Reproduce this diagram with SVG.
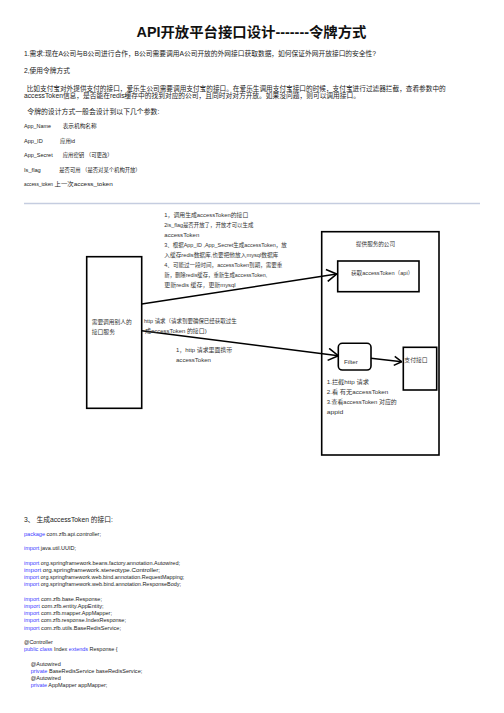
<svg xmlns="http://www.w3.org/2000/svg" width="504" height="713" viewBox="0 0 504 713">
<style>
text{font-family:"Liberation Sans","Noto Sans CJK SC",sans-serif;fill:#222}
.t{font-size:14px;font-weight:bold;fill:#111}
.b{font-size:6.5px}
.p{font-size:5.4px}
.d{font-size:5.6px;fill:#333}
.c{font-size:5.3px;fill:#222}
.k{fill:#3a3aff}
.box{fill:none;stroke:#000;stroke-width:1.6}
.ln{fill:none;stroke:#000;stroke-width:1.5}
</style>
<defs>
<marker id="ah" viewBox="0 0 12 14" refX="11" refY="7" markerWidth="12" markerHeight="14" markerUnits="userSpaceOnUse" orient="auto">
<path d="M1,1 L11,7 L1,13" fill="none" stroke="#000" stroke-width="1.6"/>
</marker>
<marker id="ah2" viewBox="0 0 12 14" refX="11" refY="7" markerWidth="9" markerHeight="11" markerUnits="userSpaceOnUse" orient="auto">
<path d="M1,1 L11,7 L1,13" fill="none" stroke="#000" stroke-width="2"/>
</marker>
</defs>
<rect width="504" height="713" fill="#fff"/>
<text class="t" x="251.5" y="37" text-anchor="middle" textLength="230" lengthAdjust="spacingAndGlyphs">API开放平台接口设计-------令牌方式</text>
<text class="b" x="24" y="56" textLength="352" lengthAdjust="spacingAndGlyphs">1.需求:现在A公司与B公司进行合作，B公司需要调用A公司开放的外网接口获取数据，如何保证外网开放接口的安全性?</text>
<text class="b" x="24" y="73" textLength="46" lengthAdjust="spacingAndGlyphs">2,使用令牌方式</text>
<text class="b" x="26.7" y="91" textLength="419" lengthAdjust="spacingAndGlyphs">比如支付宝对外提供支付的接口，爱乐生公司需要调用支付宝的接口。在爱乐生调用支付宝接口的时候，支付宝进行过滤器拦截，查看参数中的</text>
<text class="b" x="24" y="98" textLength="336" lengthAdjust="spacingAndGlyphs">accessToken信息，是否能在redis缓存中的找到对应的公司，且同时对对方开放。如果没问题，则可以调用接口。</text>
<text class="b" x="27.3" y="114" textLength="132" lengthAdjust="spacingAndGlyphs">令牌的设计方式一般会设计到以下几个参数:</text>
<g id="params">
<text class="p" x="24" y="128" textLength="27" lengthAdjust="spacingAndGlyphs">App_Name</text><text class="p" x="62.7" y="128" textLength="34" lengthAdjust="spacingAndGlyphs">表示机构名称</text>
<text class="p" x="24" y="143" textLength="18.7" lengthAdjust="spacingAndGlyphs">App_ID</text><text class="p" x="60" y="143" textLength="15" lengthAdjust="spacingAndGlyphs">应用id</text>
<text class="p" x="24" y="157" textLength="28.7" lengthAdjust="spacingAndGlyphs">App_Secret</text><text class="p" x="62.7" y="157" textLength="50" lengthAdjust="spacingAndGlyphs">应用密钥  （可更改）</text>
<text class="p" x="24" y="172" textLength="16.7" lengthAdjust="spacingAndGlyphs">Is_flag</text><text class="p" x="59.3" y="172" textLength="81.4" lengthAdjust="spacingAndGlyphs">是否可用  （是否对某个机构开放）</text>
<text class="p" x="24" y="186" textLength="29" lengthAdjust="spacingAndGlyphs">access_token</text><text class="p" x="54.5" y="186" textLength="58.2" lengthAdjust="spacingAndGlyphs">上一次access_token</text>
</g>
<line x1="24" y1="203.5" x2="480" y2="203.5" stroke="#c5cde0" stroke-width="1.4"/>

<g id="connectors">
<line class="ln" x1="141.7" y1="304" x2="336.7" y2="274" marker-end="url(#ah)"/>
<line class="ln" x1="141.7" y1="330.7" x2="338.3" y2="355.7" marker-end="url(#ah)"/>
<line class="ln" x1="371" y1="358.3" x2="401.7" y2="361.7" marker-end="url(#ah2)"/>
</g>

<g id="caller">
<rect class="box" x="86.7" y="256.7" width="55" height="151.6"/>
<text class="d" x="91.7" y="323.5" textLength="40" lengthAdjust="spacingAndGlyphs">需要调用别人的</text>
<text class="d" x="91.7" y="333.5" textLength="23.3" lengthAdjust="spacingAndGlyphs">接口服务</text>
</g>
<g id="provider">
<rect class="box" x="321.7" y="231.7" width="117.3" height="223.3"/>
<text class="d" x="356" y="246" textLength="39" lengthAdjust="spacingAndGlyphs">提供服务的公司</text>
</g>
<g id="token-api">
<rect class="box" x="337.7" y="261" width="81.3" height="30.7"/>
<text class="d" x="351" y="275" textLength="62.3" lengthAdjust="spacingAndGlyphs">获取accessToken（api）</text>
</g>
<g id="filter">
<rect class="box" x="338.3" y="343.3" width="32.7" height="26.7" rx="4"/>
<text class="d" x="344" y="363.5" textLength="13.7" lengthAdjust="spacingAndGlyphs">Filter</text>
</g>
<g id="pay">
<rect class="box" x="403.3" y="347.3" width="33.4" height="42.7"/>
<text class="d" x="404.3" y="362" textLength="23.4" lengthAdjust="spacingAndGlyphs">支付接口</text>
</g>

<g id="notes">
<text class="d" x="164.3" y="217" textLength="84" lengthAdjust="spacingAndGlyphs">1，调用生成accessToken的接口</text>
<text class="d" x="164.3" y="227" textLength="89" lengthAdjust="spacingAndGlyphs">2is_flag是否开放了，开放才可以生成</text>
<text class="d" x="164.3" y="237" textLength="35" lengthAdjust="spacingAndGlyphs">accessToken</text>
<text class="d" x="164.3" y="247" textLength="122.4" lengthAdjust="spacingAndGlyphs">3、根据App_ID ,App_Secret生成accessToken，放</text>
<text class="d" x="164.3" y="257" textLength="114" lengthAdjust="spacingAndGlyphs">入缓存redis数据库,也要把他放入mysql数据库</text>
<text class="d" x="164.3" y="267" textLength="118" lengthAdjust="spacingAndGlyphs">4、可能过一段时间，accessToken到期，需要重</text>
<text class="d" x="164.3" y="277" textLength="103" lengthAdjust="spacingAndGlyphs">新，删除redis缓存，重新生成accessToken,</text>
<text class="d" x="164.3" y="287" textLength="71.4" lengthAdjust="spacingAndGlyphs">更新redis 缓存，更新mysql</text>
<text class="d" x="144" y="322.5" textLength="92.7" lengthAdjust="spacingAndGlyphs">http 请求（请求到要确保已经获取过生</text>
<text class="d" x="145" y="332.5" textLength="61.7" lengthAdjust="spacingAndGlyphs">成accessToken 的接口)</text>
<text class="d" x="176" y="352" textLength="56.3" lengthAdjust="spacingAndGlyphs">1，http 请求里面携带</text>
<text class="d" x="176" y="362" textLength="35" lengthAdjust="spacingAndGlyphs">accessToken</text>
<text class="d" x="326.7" y="383.5" textLength="42.3" lengthAdjust="spacingAndGlyphs">1.拦截http 请求</text>
<text class="d" x="326.7" y="393.5" textLength="61.6" lengthAdjust="spacingAndGlyphs">2.看  有无accessToken</text>
<text class="d" x="326.7" y="403.5" textLength="70" lengthAdjust="spacingAndGlyphs">3.查看accessToken 对应的</text>
<text class="d" x="326.7" y="413.5" textLength="16.6" lengthAdjust="spacingAndGlyphs">appid</text>
</g>

<text class="b" x="24" y="522" textLength="89" lengthAdjust="spacingAndGlyphs">3、 生成accessToken 的接口:</text>
<g id="code">
<text class="c" x="24" y="536" textLength="77" lengthAdjust="spacingAndGlyphs"><tspan class="k">package</tspan> com.zfb.api.controller;</text>
<text class="c" x="24" y="550" textLength="52" lengthAdjust="spacingAndGlyphs"><tspan class="k">import</tspan> java.util.UUID;</text>
<text class="c" x="24" y="564.5" textLength="156" lengthAdjust="spacingAndGlyphs"><tspan class="k">import</tspan> org.springframework.beans.factory.annotation.Autowired;</text>
<text class="c" x="24" y="571.8" textLength="136" lengthAdjust="spacingAndGlyphs"><tspan class="k">import</tspan> org.springframework.stereotype.Controller;</text>
<text class="c" x="24" y="579" textLength="160.3" lengthAdjust="spacingAndGlyphs"><tspan class="k">import</tspan> org.springframework.web.bind.annotation.RequestMapping;</text>
<text class="c" x="24" y="586" textLength="157" lengthAdjust="spacingAndGlyphs"><tspan class="k">import</tspan> org.springframework.web.bind.annotation.ResponseBody;</text>
<text class="c" x="24" y="600.5" textLength="78" lengthAdjust="spacingAndGlyphs"><tspan class="k">import</tspan> com.zfb.base.Response;</text>
<text class="c" x="24" y="607.8" textLength="79.7" lengthAdjust="spacingAndGlyphs"><tspan class="k">import</tspan> com.zfb.entity.AppEntity;</text>
<text class="c" x="24" y="615" textLength="88" lengthAdjust="spacingAndGlyphs"><tspan class="k">import</tspan> com.zfb.mapper.AppMapper;</text>
<text class="c" x="24" y="622.2" textLength="102" lengthAdjust="spacingAndGlyphs"><tspan class="k">import</tspan> com.zfb.response.IndexResponse;</text>
<text class="c" x="24" y="629.8" textLength="97" lengthAdjust="spacingAndGlyphs"><tspan class="k">import</tspan> com.zfb.utils.BaseRedisService;</text>
<text class="c" x="24" y="644" textLength="28.7" lengthAdjust="spacingAndGlyphs">@Controller</text>
<text class="c" x="24" y="651.3" textLength="93.7" lengthAdjust="spacingAndGlyphs"><tspan class="k">public class</tspan> Index <tspan class="k">extends</tspan> Response {</text>
<text class="c" x="30.7" y="665.5" textLength="30" lengthAdjust="spacingAndGlyphs">@Autowired</text>
<text class="c" x="30.7" y="672.8" textLength="111.6" lengthAdjust="spacingAndGlyphs"><tspan class="k">private</tspan> BaseRedisService baseRedisService;</text>
<text class="c" x="30.7" y="680" textLength="30" lengthAdjust="spacingAndGlyphs">@Autowired</text>
<text class="c" x="30.7" y="687.2" textLength="76.6" lengthAdjust="spacingAndGlyphs"><tspan class="k">private</tspan> AppMapper appMapper;</text>
</g>
</svg>
